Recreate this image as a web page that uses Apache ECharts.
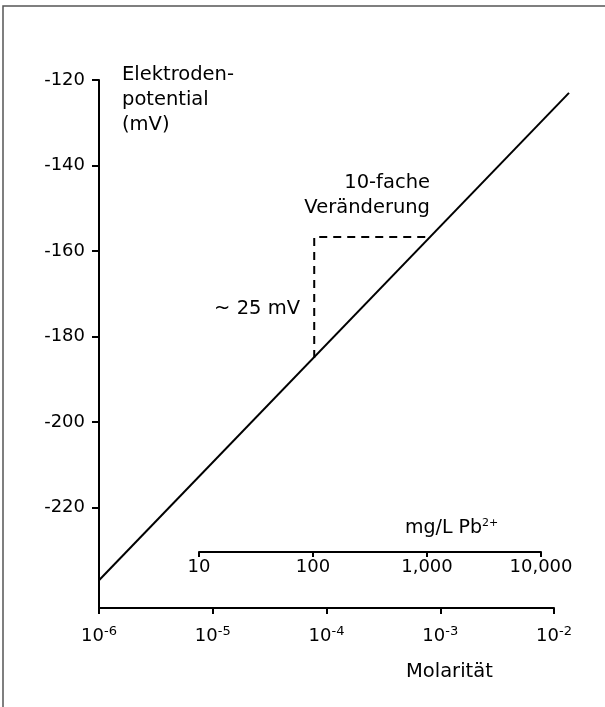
<!DOCTYPE html>
<html>
<head>
<meta charset="utf-8">
<script src="https://cdn.jsdelivr.net/npm/echarts@6/dist/echarts.min.js"></script>
<style>
html,body{margin:0;padding:0;background:#fff;}
#c{width:605px;height:707px;}
</style>
</head>
<body>
<div id="c"></div>
<script>
// ---- data ----
const molarity = [1e-6, 1.35e-2];
const potential = [-237, -123];
const stepX = [7.8e-5, 7.8e-5, 7.8e-4];
const stepY = [-185, -156.7, -156.7];
const yTicks = [-220, -200, -180, -160, -140, -120];
const molExponents = [-6, -5, -4, -3, -2];
const mgTicks = [10, 100, 1000, 10000];
const mgLabels = ['10', '100', '1,000', '10,000'];

const FONT = 'DejaVu Sans';
const INK = '#000';
const Y_MIN = -243.5, Y_MAX = -120;
const chart = echarts.init(document.getElementById('c'));

const lineData = molarity.map((x, i) => [Math.log10(x), potential[i]]);
const stepData = stepX.map((x, i) => [Math.log10(x), stepY[i]]);

chart.setOption({
  animation: false,
  textStyle: { fontFamily: FONT, color: INK },
  grid: [
    { left: 99, right: 51, top: 80, bottom: 99 },
    { left: 199, right: 64, top: 540, bottom: 155 },
    // same scale as grid 0, extended to the right where the line runs past the axis end
    { left: 99, right: 36, top: 80, bottom: 99 }
  ],
  xAxis: [
    {
      type: 'value', gridIndex: 0,
      min: molExponents[0], max: molExponents[molExponents.length - 1], interval: 1,
      axisLine: { show: true, lineStyle: { color: INK, width: 2 } },
      axisTick: { show: true, length: 6, lineStyle: { color: INK, width: 2 } },
      splitLine: { show: false },
      axisLabel: {
        margin: 17,
        formatter: v => '{b|10}{s|' + v + '}',
        rich: {
          b: { fontSize: 18, fontFamily: FONT, color: INK },
          s: { fontSize: 13, fontFamily: FONT, color: INK, verticalAlign: 'bottom', padding: [0, 0, 9, 0] }
        }
      }
    },
    {
      type: 'log', logBase: 10, gridIndex: 1,
      min: mgTicks[0], max: mgTicks[mgTicks.length - 1],
      axisLine: { lineStyle: { color: INK, width: 2 } },
      axisTick: { length: 5, lineStyle: { color: INK, width: 2 } },
      splitLine: { show: false },
      minorTick: { show: false },
      axisLabel: {
        margin: 6, fontSize: 18, color: INK, fontFamily: FONT,
        formatter: v => mgLabels[mgTicks.indexOf(Math.round(v))] || ''
      }
    },
    { type: 'value', gridIndex: 2, show: false, min: molExponents[0], max: 'dataMax' }
  ],
  yAxis: [
    {
      type: 'value', gridIndex: 0, min: Y_MIN, max: Y_MAX,
      axisLine: { show: true, lineStyle: { color: INK, width: 2 } },
      axisTick: { show: true, length: 7, customValues: yTicks, lineStyle: { color: INK, width: 2 } },
      axisLabel: { margin: 14, fontSize: 18, color: INK, fontFamily: FONT, customValues: yTicks },
      splitLine: { show: false }
    },
    { type: 'value', gridIndex: 1, show: false, min: 0, max: 1 },
    { type: 'value', gridIndex: 2, show: false, min: Y_MIN, max: Y_MAX }
  ],
  series: [
    {
      type: 'line', xAxisIndex: 2, yAxisIndex: 2, data: lineData,
      showSymbol: false, clip: false,
      lineStyle: { color: INK, width: 2 }
    },
    {
      type: 'line', xAxisIndex: 0, yAxisIndex: 0, data: stepData,
      showSymbol: false, clip: false,
      lineStyle: { color: INK, width: 2, type: [8, 6] }
    }
  ],
  graphic: [
    { type: 'rect', shape: { x: 3, y: 6, width: 800, height: 800 }, style: { fill: 'none', stroke: '#555', lineWidth: 1.5 }, silent: true },
    { type: 'text', x: 122, y: 62, style: { text: 'Elektroden-\npotential\n(mV)', font: '19.5px "DejaVu Sans"', lineHeight: 25, fill: INK } },
    { type: 'text', x: 430, y: 170, style: { text: '10-fache\nVeränderung', font: '19.5px "DejaVu Sans"', lineHeight: 25, fill: INK, align: 'right' } },
    { type: 'text', x: 300, y: 296, style: { text: '~ 25 mV', font: '19.5px "DejaVu Sans"', lineHeight: 25, fill: INK, align: 'right' } },
    { type: 'text', x: 405, y: 518, style: {
        text: '{a|mg/L Pb}{s|2+}',
        rich: {
          a: { fontSize: 19, fontFamily: FONT, fill: INK },
          s: { fontSize: 11, fontFamily: FONT, fill: INK, verticalAlign: 'bottom', padding: [0, 0, 9, 0] }
        }
    } },
    { type: 'text', x: 406, y: 662, style: { text: 'Molarität', font: '19.5px "DejaVu Sans"', fill: INK } }
  ]
});
</script>
</body>
</html>
